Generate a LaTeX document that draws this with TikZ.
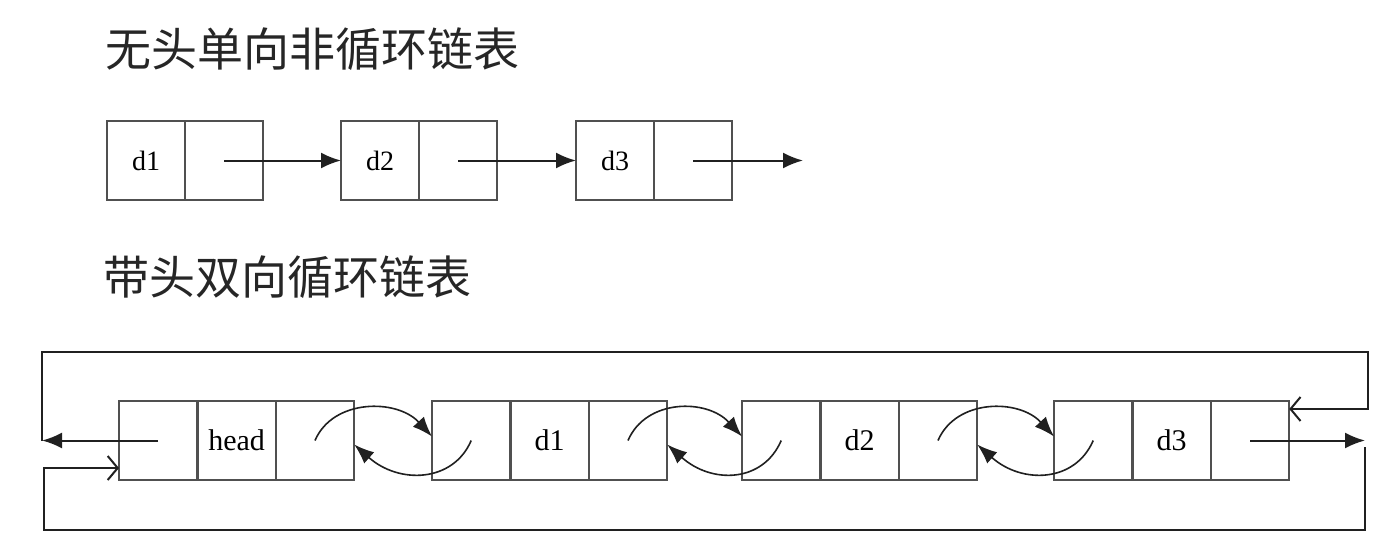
\documentclass[tikz,border=0pt]{standalone}
\usepackage{fontspec}
\setmainfont{Liberation Serif}
\newfontfamily\cjk{Noto Sans CJK SC}
\usetikzlibrary{arrows.meta}
\definecolor{boxgray}{HTML}{505050}
\definecolor{linegray}{HTML}{202020}
\tikzset{
  cell/.style={draw=boxgray, line width=1.1pt, rectangle, inner sep=0pt, outer sep=0pt,
    minimum width=39pt, minimum height=39.5pt, anchor=west,
    font=\fontsize{14}{14}\selectfont},
  bcell/.style={cell, minimum width=39.2pt, font=\fontsize{15}{15}\selectfont},
  arr/.style={draw=linegray, line width=1pt, -{Latex[length=10pt,width=8pt]}},
  openarr/.style={draw=linegray, line width=1pt, -{Straight Barb[length=5pt,width=12pt]}},
  curvearr/.style={draw=linegray, line width=0.8pt, -{Latex[length=10pt,width=7.5pt]}},
  title/.style={anchor=west, inner sep=0pt, font=\cjk\fontsize{23}{23}\selectfont, text=black!85}
}
\begin{document}
\begin{tikzpicture}[x=0.5pt,y=-0.5pt]
\useasboundingbox (0,0) rectangle (1396,542);
% titles
\node[title] (t1) at (105,49) {无头单向非循环链表};
\node[title] (t2) at (103,277) {带头双向循环链表};
% top list
\node[cell] (p1a) at (107,160.5) {d1};
\node[cell] (p1b) at (p1a.east) {};
\node[cell] (p2a) at (341,160.5) {d2};
\node[cell] (p2b) at (p2a.east) {};
\node[cell] (p3a) at (576,160.5) {d3};
\node[cell] (p3b) at (p3a.east) {};
\coordinate (pend) at (803,160.5);
\draw[arr] (p1b.center) -- (p2a.west);
\draw[arr] (p2b.center) -- (p3a.west);
\draw[arr] (p3b.center) -- (pend);
% bottom list
\node[bcell] (h0) at (119,440.5) {};
\node[bcell] (h1) at (h0.east) {head};
\node[bcell] (h2) at (h1.east) {};
\node[bcell] (a0) at (432,440.5) {};
\node[bcell] (a1) at (a0.east) {d1};
\node[bcell] (a2) at (a1.east) {};
\node[bcell] (b0) at (742,440.5) {};
\node[bcell] (b1) at (b0.east) {d2};
\node[bcell] (b2) at (b1.east) {};
\node[bcell] (c0) at (1054,440.5) {};
\node[bcell] (c1) at (c0.east) {d3};
\node[bcell] (c2) at (c1.east) {};
% links between nodes
\foreach \u/\v in {h2/a0, a2/b0, b2/c0}{
  \draw[curvearr] (\u.center) .. controls +(18,-42) and +(-35,-38) .. ([yshift=2pt]\v.west);
  \draw[curvearr] (\v.center) .. controls +(-18,42) and +(45,40) .. ([yshift=-2pt]\u.east);
}
% outer loops
\coordinate (L) at (42,440.5);
\coordinate (TL) at (42,352);
\coordinate (TR) at (1368,352);
\coordinate (R) at (1365,440.5);
\coordinate (RB) at (1365,447);
\coordinate (BL) at (44,530);
\draw[arr] (h0.center) -- (L);
\draw[openarr] (L) -- (TL) -- (TR) |- ([yshift=15.75pt]c2.east);
\draw[arr] (c2.center) -- (R);
\draw[openarr] (RB) |- (BL) |- ([yshift=-13.75pt]h0.west);
\end{tikzpicture}
\end{document}
